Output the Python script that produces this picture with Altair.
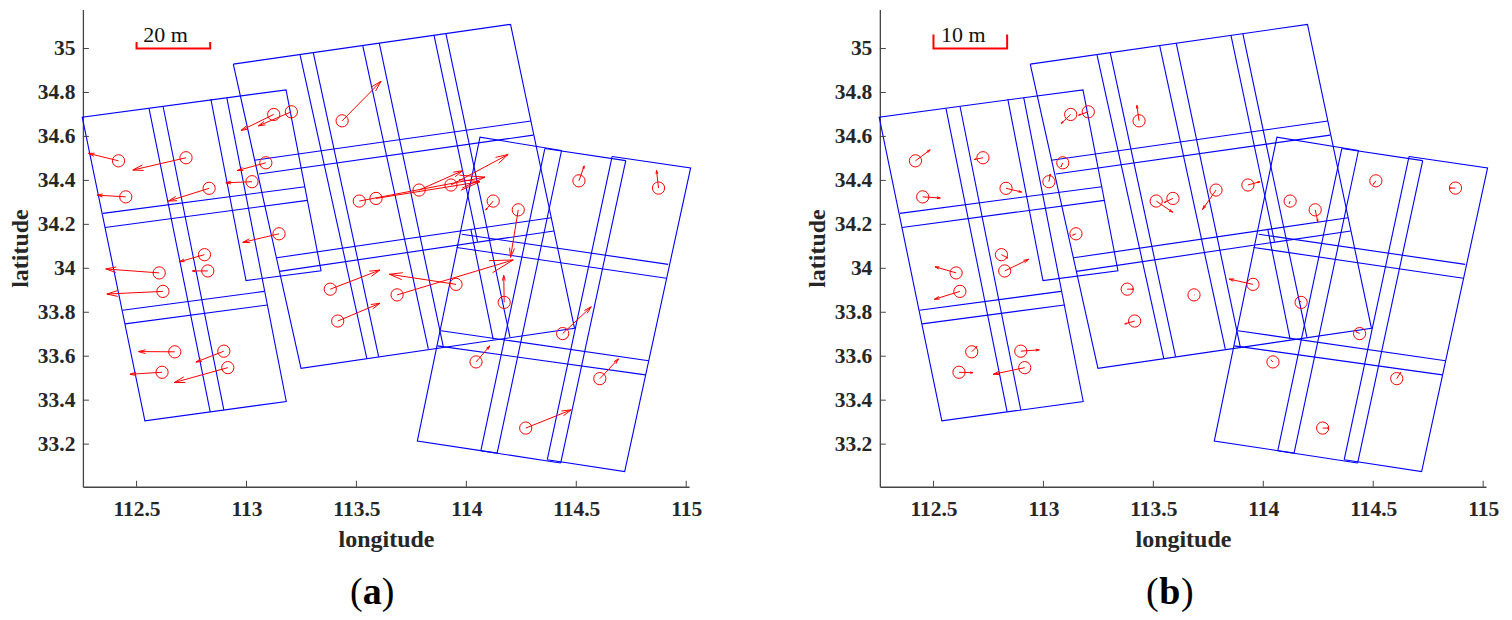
import math
import altair as alt
import pandas as pd

X_DOMAIN = [112.256, 115.013]
Y_DOMAIN = [33.006, 35.178]
X_TICKS = [112.5, 113, 113.5, 114, 114.5, 115]
Y_TICKS = [33.2, 33.4, 33.6, 33.8, 34, 34.2, 34.4, 34.6, 34.8, 35]
FONT = "Liberation Serif"
W, H = 607, 478

TILES_LEFT = [
    [(112.838, 34.77), (112.998, 33.944), (113.339, 33.989), (113.18, 34.812), (112.253, 34.688), (112.538, 33.306), (113.181, 33.394), (112.91, 34.779)],
    [(112.557, 34.727), (112.835, 33.347)],
    [(112.621, 34.735), (112.897, 33.356)],
    [(112.347, 34.25), (113.266, 34.371)],
    [(112.357, 34.186), (113.277, 34.309)],
    [(112.436, 33.809), (113.08, 33.895)],
    [(112.448, 33.747), (113.095, 33.833)],
]
TILES_MIDDLE = [
    [(112.94, 34.929), (114.201, 35.11), (114.492, 33.727), (113.248, 33.545), (112.94, 34.929)],
    [(113.244, 34.97), (113.547, 33.591)],
    [(113.304, 34.98), (113.601, 33.598)],
    [(113.529, 35.012), (113.827, 33.633)],
    [(113.604, 35.025), (113.895, 33.644)],
    [(113.853, 35.06), (114.051, 34.121)],
    [(114.02, 34.179), (114.122, 33.677)],
    [(113.907, 35.068), (114.198, 33.688)],
    [(113.036, 34.492), (114.294, 34.67)],
    [(113.057, 34.429), (114.304, 34.606)],
    [(113.138, 34.048), (114.386, 34.23)],
    [(113.15, 33.986), (114.398, 34.17)],
]
TILES_RIGHT = [
    [(114.433, 34.536), (114.062, 34.597), (113.777, 33.214), (114.14, 33.159)],
    [(114.357, 34.545), (114.725, 34.49)],
    [(114.663, 34.509), (115.02, 34.457), (114.72, 33.075), (114.368, 33.129)],
    [(114.066, 33.17), (114.429, 33.114)],
    [(114.357, 34.545), (114.066, 33.17)],
    [(114.433, 34.536), (114.14, 33.159)],
    [(114.663, 34.509), (114.368, 33.129)],
    [(114.725, 34.49), (114.429, 33.114)],
    [(113.979, 34.155), (114.918, 34.018)],
    [(113.956, 34.095), (114.91, 33.955)],
    [(113.885, 33.716), (114.829, 33.579)],
    [(113.868, 33.647), (114.815, 33.515)],
]

STATION_LON = [112.418, 112.725, 112.451, 112.83, 113.025, 113.088, 113.124, 113.204, 113.435, 113.148,
               112.809, 112.824, 112.603, 112.62, 112.674, 112.616, 112.897, 112.915, 113.381, 113.415,
               113.685, 113.953, 114.172, 114.438, 114.044, 114.607, 114.27, 114.236, 114.122, 114.512,
               114.874, 113.785, 113.93, 113.513, 113.589]
STATION_LAT = [34.489, 34.503, 34.325, 34.364, 34.394, 34.48, 34.7, 34.712, 34.671, 34.157,
               34.062, 33.988, 33.979, 33.895, 33.62, 33.527, 33.623, 33.548, 33.905, 33.76,
               33.879, 33.927, 33.845, 33.703, 33.574, 33.498, 33.273, 34.266, 34.306, 34.398,
               34.365, 34.356, 34.379, 34.306, 34.318]

TIP_A_LON = [112.281, 112.483, 112.32, 112.645, 112.906, 112.959, 112.975, 113.054, 113.612, 112.983,
             112.695, 112.754, 112.36, 112.365, 112.509, 112.47, 112.77, 112.671, 113.607, 113.607,
             114.213, 113.65, 114.17, 114.568, 114.107, 114.692, 114.477, 114.201, 114.088, 114.536,
             114.865, 113.983, 114.19, 114.085, 114.062]
TIP_A_LAT = [34.523, 34.447, 34.333, 34.306, 34.389, 34.445, 34.627, 34.648, 34.851, 34.118,
             34.03, 33.988, 33.997, 33.883, 33.621, 33.518, 33.573, 33.48, 33.992, 33.841,
             34.038, 33.973, 33.968, 33.825, 33.647, 33.588, 33.356, 34.05, 34.265, 34.466,
             34.445, 34.444, 34.518, 34.415, 34.394]

TIP_B_LON = [112.485, 112.686, 112.531, 112.901, 113.031, 113.08, 113.081, 113.16, 113.425, 113.133,
             112.838, 112.933, 112.507, 112.504, 112.698, 112.679, 112.981, 112.772, 113.409, 113.37,
             113.687, 113.845, 114.163, 114.421, 114.035, 114.625, 114.297, 114.248, 114.118, 114.5,
             114.85, 113.724, 113.985, 113.588, 113.55]
TIP_B_LAT = [34.539, 34.495, 34.32, 34.347, 34.429, 34.462, 34.659, 34.697, 34.741, 34.151,
             34.047, 34.041, 34.007, 33.859, 33.644, 33.525, 33.629, 33.518, 33.905, 33.747,
             33.879, 33.951, 33.856, 33.712, 33.583, 33.527, 33.273, 34.212, 34.295, 34.382,
             34.365, 34.268, 34.394, 34.255, 34.3]


def tile_table():
    rows = []
    for i, path in enumerate(TILES_LEFT + TILES_MIDDLE + TILES_RIGHT):
        for j, (lon, lat) in enumerate(path):
            rows.append({"path": i, "order": j, "lon": lon, "lat": lat})
    return pd.DataFrame(rows)


def arrow_table(tip_lon, tip_lat):
    rows = []
    for x0, y0, x1, y1 in zip(STATION_LON, STATION_LAT, tip_lon, tip_lat):
        rows.append({"lon": x0, "lat": y0, "lon2": x1, "lat2": y1})
        dx, dy = x0 - x1, y0 - y1
        for sign in (-1, 1):
            a = math.radians(15) * sign
            rows.append({
                "lon": x1, "lat": y1,
                "lon2": x1 + 0.2 * (dx * math.cos(a) - dy * math.sin(a)),
                "lat2": y1 + 0.2 * (dx * math.sin(a) + dy * math.cos(a)),
            })
    return pd.DataFrame(rows)


X_AXIS = alt.Axis(values=X_TICKS, format="~g", ticks=False, grid=False, title="longitude",
                  labelFont=FONT, labelFontWeight="bold", labelFontSize=21.5, labelColor="#262626",
                  labelPadding=12, labelFlush=False, titleFont=FONT, titleFontWeight="bold",
                  titleFontSize=24, titleColor="#262626", titlePadding=7,
                  domainColor="#444444", domainWidth=1.3)
Y_AXIS = alt.Axis(values=Y_TICKS, format="~g", ticks=False, grid=False, title="latitude",
                  labelFont=FONT, labelFontWeight="bold", labelFontSize=21.5, labelColor="#262626",
                  labelPadding=8, titleFont=FONT, titleFontWeight="bold",
                  titleFontSize=24, titleColor="#262626", titlePadding=5,
                  domainColor="#444444", domainWidth=1.3)


def xenc():
    return alt.X("lon:Q", scale=alt.Scale(domain=X_DOMAIN, nice=False, zero=False), axis=X_AXIS)


def yenc():
    return alt.Y("lat:Q", scale=alt.Scale(domain=Y_DOMAIN, nice=False, zero=False), axis=Y_AXIS)


def panel(tip_lon, tip_lat, bar_label, bar_rise, bar_text_lon, paren, letter):
    tiles = alt.Chart(tile_table()).mark_line(color="#0000ff", strokeWidth=1.1, clip=False).encode(
        x=xenc(), y=yenc(), detail="path:N", order="order:Q")

    xt = alt.Chart(pd.DataFrame({"lon": X_TICKS})).mark_rule(color="#444444", strokeWidth=1).encode(
        x=xenc(), y=alt.value(H), y2=alt.value(H - 6))
    yt = alt.Chart(pd.DataFrame({"lat": Y_TICKS})).mark_rule(color="#444444", strokeWidth=1).encode(
        y=yenc(), x=alt.value(0), x2=alt.value(6))

    arrows = alt.Chart(arrow_table(tip_lon, tip_lat)).mark_rule(color="#ff0000", strokeWidth=1).encode(
        x=xenc(), y=yenc(), x2="lon2:Q", y2="lat2:Q")

    stations = alt.Chart(pd.DataFrame({"lon": STATION_LON, "lat": STATION_LAT})).mark_point(
        shape="circle", filled=False, color="#ff0000", size=150, strokeWidth=1, opacity=1).encode(
        x=xenc(), y=yenc())

    bar = pd.DataFrame({"lon": [112.5, 112.5, 112.835, 112.835],
                        "lat": [35 + bar_rise, 35, 35, 35 + bar_rise],
                        "order": [0, 1, 2, 3]})
    scale_bar = alt.Chart(bar).mark_line(color="#ff0000", strokeWidth=2).encode(
        x=xenc(), y=yenc(), order="order:Q")

    bar_text = alt.Chart(pd.DataFrame({"lon": [bar_text_lon], "lat": [35.03], "t": [bar_label]})).mark_text(
        font=FONT, fontSize=22, color="#111111", align="center", baseline="alphabetic").encode(
        x=xenc(), y=yenc(), text="t:N")

    cap_plain = alt.Chart(pd.DataFrame({"lon": paren, "lat": [32.472, 32.472], "t": ["(", ")"]})).mark_text(
        font=FONT, fontSize=38, color="#000000", align="center", baseline="alphabetic").encode(
        x=xenc(), y=yenc(), text="t:N")
    cap_bold = alt.Chart(pd.DataFrame({"lon": [(paren[0] + paren[1]) / 2], "lat": [32.472], "t": [letter]})).mark_text(
        font=FONT, fontSize=38, fontWeight="bold", color="#000000", align="center", baseline="alphabetic").encode(
        x=xenc(), y=yenc(), text="t:N")

    return alt.layer(tiles, xt, yt, arrows, stations, scale_bar, bar_text, cap_plain, cap_bold).properties(
        width=W, height=H)


a = panel(TIP_A_LON, TIP_A_LAT, "20 m", 0.03, 112.632, [113.5, 113.644], "a")
b = panel(TIP_B_LON, TIP_B_LAT, "10 m", 0.064, 112.636, [113.495, 113.655], "b")

chart = alt.hconcat(a, b, spacing=191, bounds="flush").properties(
    padding={"left": 0, "top": 1, "right": 5, "bottom": 0}
).configure_view(stroke=None)

chart.save("out.html", embed_options={"renderer": "svg", "actions": False})
